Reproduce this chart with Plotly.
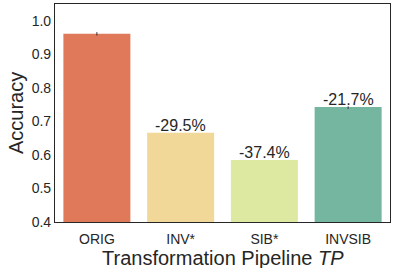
import plotly.graph_objects as go

categories = ["ORIG", "INV*", "SIB*", "INVSIB"]
accuracy = [0.961, 0.666, 0.585, 0.743]
err_plus = [0.005, 0.0, 0.0, 0.002]
err_minus = [0.005, 0.0, 0.0, 0.006]
labels = ["", "-29.5%", "-37.4%", "-21.7%"]
colors = ["#e0795a", "#f1d898", "#dde9a0", "#74b6a0"]

fig = go.Figure()
fig.add_trace(go.Bar(
    x=categories, y=accuracy, marker=dict(color=colors, line=dict(width=0)),
    width=0.8,
    error_y=dict(type="data", symmetric=False, array=err_plus, arrayminus=err_minus,
                 color="#333333", thickness=1, width=0),
))
for c, v, t in zip(categories, accuracy, labels):
    if t:
        fig.add_annotation(x=c, y=v, text=t, showarrow=False, yanchor="bottom",
                           yshift=-3, font=dict(size=16, color="#262626"))

fig.add_annotation(xref="paper", yref="paper", x=0.5, y=0, yshift=-36, yanchor="middle",
                   text="Transformation Pipeline <i>TP</i>", showarrow=False,
                   font=dict(size=20, color="#262626"))
fig.add_annotation(xref="paper", yref="paper", x=0, xshift=-39, y=0.5, xanchor="center",
                   text="Accuracy", textangle=-90, showarrow=False,
                   font=dict(size=20, color="#262626"))

font = "Liberation Sans, Arial, sans-serif"
fig.update_layout(
    width=395, height=268,
    margin=dict(l=55, r=5, t=4, b=46, autoexpand=False),
    plot_bgcolor="white", paper_bgcolor="white",
    font=dict(family=font, color="#262626"),
    showlegend=False, bargap=0.2,
)
fig.update_xaxes(
    showline=True, linecolor="#262626", linewidth=1.2, mirror=True, automargin=False,
    showgrid=False, ticks="", tickfont=dict(size=14), ticklabelstandoff=4,
)
fig.update_yaxes(
    range=[0.4, 1.05], showline=True, linecolor="#262626", linewidth=1.2, mirror=True,
    automargin=False,
    showgrid=False, ticks="", tickfont=dict(size=14),
    tickvals=[0.4, 0.5, 0.6, 0.7, 0.8, 0.9, 1.0],
    ticktext=["0.4", "0.5", "0.6", "0.7", "0.8", "0.9", "1.0"],
)
fig.write_html("out.html", config={"displayModeBar": False},
               post_script="document.body.style.margin='0';document.body.style.overflow='hidden';")
